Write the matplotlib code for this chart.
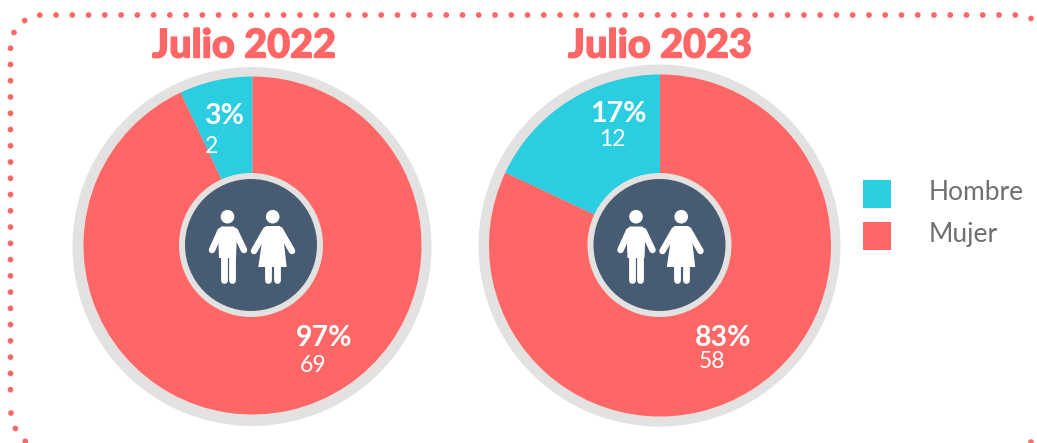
import matplotlib
matplotlib.use("Agg")
import matplotlib.pyplot as plt
import matplotlib.patheffects as pe
from matplotlib.patches import Circle, Polygon, Rectangle, PathPatch
from matplotlib.path import Path

W, H = 1037, 443
CORAL, CYAN, RING, HUB = "#FF6666", "#2BCDE0", "#E3E2E0", "#475C72"

titles = ["Julio 2022", "Julio 2023"]
categories = ["Hombre", "Mujer"]
drawn_shares = [[7, 93], [18, 82]]
pct_labels = [["3%", "97%"], ["17%", "83%"]]
count_labels = [["2", "69"], ["12", "58"]]

plt.rcParams["font.family"] = ["Lato", "DejaVu Sans"]
fig = plt.figure(figsize=(W / 100, H / 100), dpi=100, facecolor="white")
ax = fig.add_axes([0, 0, 1, 1])


def Y(y):
    return H - y


def limb(x0, y0, x1, y1, w):
    ax.plot([x0, x1], [Y(y0), Y(y1)], color="white", lw=w * 0.72,
            solid_capstyle="round", zorder=6)


def people(cx, cy):
    # man
    ax.add_patch(Circle((cx - 23.5, Y(cy - 28.3)), 6.8, fc="white", ec="none", zorder=6))
    ax.add_patch(Polygon([(cx - 30, Y(cy - 18.5)), (cx - 17, Y(cy - 18.5)), (cx - 14, Y(cy - 13)),
                          (cx - 15, Y(cy + 13)), (cx - 32, Y(cy + 13)), (cx - 33, Y(cy - 13))],
                         closed=True, fc="white", ec="none", zorder=6))
    limb(cx - 30.5, cy - 14, cx - 39, cy + 5, 6.5)
    limb(cx - 16, cy - 14, cx - 7, cy + 5, 6.5)
    limb(cx - 27.5, cy + 10, cx - 27.5, cy + 35, 6.8)
    limb(cx - 19.5, cy + 10, cx - 19.5, cy + 35, 6.8)
    # woman
    ax.add_patch(Circle((cx + 21.7, Y(cy - 28.3)), 6.8, fc="white", ec="none", zorder=6))
    ax.add_patch(Polygon([(cx + 15, Y(cy - 19)), (cx + 29, Y(cy - 19)), (cx + 32, Y(cy - 10)),
                          (cx + 35.7, Y(cy + 22)), (cx + 7.3, Y(cy + 22)), (cx + 12, Y(cy - 10))],
                         closed=True, fc="white", ec="none", zorder=6))
    limb(cx + 15, cy - 15, cx + 3, cy + 6, 6.5)
    limb(cx + 29, cy - 15, cx + 41, cy + 6, 6.5)
    limb(cx + 17, cy + 20, cx + 17, cy + 35, 6.8)
    limb(cx + 26, cy + 20, cx + 26, cy + 35, 6.8)


pie_geo = [
    dict(ring=(252, 246.5, 179.5), pie=(252.5, 245.5, 169), hub=(251, 245)),
    dict(ring=(659.5, 245.5, 181), pie=(660, 245.5, 171), hub=(659.5, 245)),
]
pct_pos = [[(224, 116), (324, 338)], [(618, 114), (723, 338)]]
cnt_pos = [[(212, 146), (313, 365)], [(612, 139), (712, 362)]]
title_x = [244, 660]

for i, geo in enumerate(pie_geo):
    rx, ry, rr = geo["ring"]
    ax.add_patch(Circle((rx, Y(ry)), rr, fc=RING, ec="none", zorder=1))
    px, py, pr = geo["pie"]
    wedges, _ = ax.pie(drawn_shares[i], colors=[CYAN, CORAL], startangle=90,
                       center=(px, Y(py)), radius=pr, frame=True)
    for w in wedges:
        w.set_zorder(2)
        w.set_edgecolor("none")
    hx, hy = geo["hub"]
    ax.add_patch(Circle((hx, Y(hy)), 72, fc=RING, ec="none", zorder=3))
    ax.add_patch(Circle((hx, Y(hy)), 66, fc=HUB, ec="none", zorder=4))
    people(hx, hy)
    ax.text(title_x[i], Y(46), titles[i], color=CORAL, fontsize=28.5, fontweight="black",
            ha="center", va="center", zorder=7,
            path_effects=[pe.withStroke(linewidth=1.0, foreground=CORAL)])
    for j in range(2):
        x, y = pct_pos[i][j]
        ax.text(x, Y(y), pct_labels[i][j], color="white", fontsize=20.5, fontweight="bold",
                ha="center", va="center", zorder=7)
        x, y = cnt_pos[i][j]
        ax.text(x, Y(y), count_labels[i][j], color="white", fontsize=16.5, fontweight="normal",
                ha="center", va="center", zorder=7)

# faint leftover label behind the 2022 male slice
ax.text(229, Y(132), "7%", color="white", alpha=0.35, fontsize=17, fontweight="light",
        ha="center", va="center", zorder=5)

# legend
legend_colors = [CYAN, CORAL]
for k, name in enumerate(categories):
    top = 180 + 42 * k
    ax.add_patch(Rectangle((863, Y(top + 28)), 28, 28, fc=legend_colors[k], ec="none"))
    ax.text(929, Y(top + 12), name, color="#707070", fontsize=19, fontweight="normal",
            ha="left", va="center")

# dotted frame
DOT = 5.8
dash = (0, (0.01, 16.2 / DOT))
def frame(verts, codes):
    ax.add_patch(PathPatch(Path([(x, Y(y)) for x, y in verts], codes), fc="none", ec=CORAL,
                           lw=DOT * 0.72, linestyle=dash, capstyle="round", zorder=0))

frame([(1031, 18.5), (1025, 15), (1015, 15), (43, 15), (25, 15), (10.5, 29), (10.5, 47), (10.5, 404)],
      [Path.MOVETO, Path.CURVE3, Path.CURVE3, Path.LINETO, Path.CURVE4, Path.CURVE4, Path.CURVE4, Path.LINETO])
frame([(11, 413), (11, 428), (26, 442)], [Path.MOVETO, Path.CURVE3, Path.CURVE3])
ax.add_patch(Circle((1031, Y(442)), 2.8, fc=CORAL, ec="none"))

ax.set_aspect("equal")
ax.set_xlim(0, W)
ax.set_ylim(0, H)
ax.axis("off")
fig.savefig("out.png", dpi=100, facecolor="white")
